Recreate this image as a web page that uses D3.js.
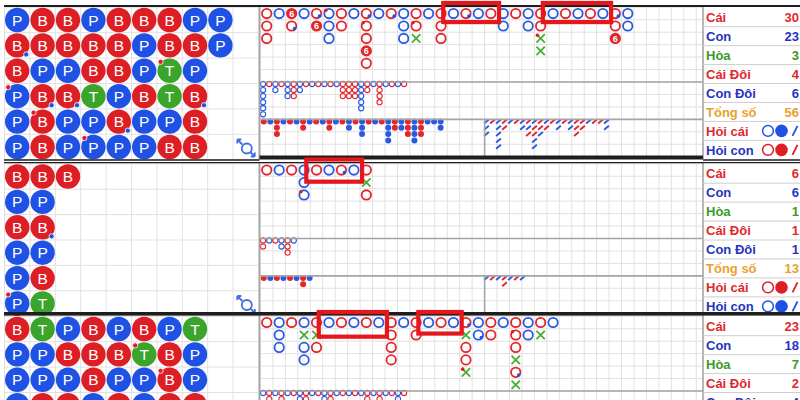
<!DOCTYPE html>
<html>
<head>
<meta charset="utf-8">
<script src="https://cdn.jsdelivr.net/npm/d3@7"></script>
<style>
  body { margin: 0; background: #fff; }
  svg { display: block; font-family: "Liberation Sans", Arial, sans-serif; }
</style>
</head>
<body>
<svg id="chart" width="800" height="400"></svg>
<script>
// Bead plates, row by row. B/P/T + optional pair marks: r = banker pair, b = player pair
const bead1 = [
  ['P', 'B', 'B', 'P', 'B', 'B', 'B', 'P', 'P'],
  ['Bb', 'B', 'B', 'B', 'B', 'P', 'B', 'B', 'P'],
  ['B', 'P', 'P', 'B', 'B', 'P', 'Tr', 'P'],
  ['Pr', 'Bb', 'Bb', 'T', 'P', 'B', 'T', 'Bb'],
  ['P', 'Br', 'P', 'P', 'Bb', 'P', 'P', 'B'],
  ['P', 'B', 'P', 'Pr', 'P', 'P', 'B', 'B']
];
const bead2 = [
  ['B', 'B', 'B'],
  ['P', 'P'],
  ['B', 'Bb'],
  ['P', 'P'],
  ['P', 'B'],
  ['Pr', 'T']
];
const bead3 = [
  ['B', 'T', 'P', 'B', 'P', 'B', 'P', 'T'],
  ['P', 'P', 'B', 'B', 'B', 'Tr', 'B', 'P'],
  ['P', 'P', 'P', 'B', 'P', 'P', 'Br', 'P'],
  ['P', 'B', 'B', 'P', 'B', 'P', 'B', 'B']
];

// Big roads, column by column. 6 = super six, X = tie
const road1 = [
  ['B', 'B', 'B'], ['P'], ['6', 'Bb'], ['P'], ['Bb', '6'], ['Pr', 'P', 'P'], ['B', 'B'], ['P'],
  ['Bb', 'Br', 'B', '6', 'B'], ['P'], ['Bb'], ['P', 'P', 'P'], ['B', 'Br', 'X'], ['P'],
  ['B', 'B', 'B'], ['P'], ['Bb'], ['P'], ['B'], ['P', 'P'], ['B'], ['P', 'P'],
  ['B', 'B', 'Xr', 'X'], ['P'], ['B'], ['P'], ['B'], ['P'], ['Bb', 'B', '6'], ['P', 'P']
];
const road2 = [
  ['B'], ['P'], ['B'], ['P', 'P', 'Pr'], ['B'], ['P'], ['Bb'], ['P'], ['B', 'X', 'B']
];
const road3 = [
  ['B'], ['P', 'P', 'P'], ['B'], ['P', 'X', 'P', 'P'], ['B', 'X', 'B'], ['P'], ['B'], ['P'],
  ['B'], ['P'], ['B', 'B', 'B', 'B'], ['P'], ['B', 'B'], ['P'], ['B'], ['P'],
  ['Bb', 'X', 'B', 'B', 'Xr'], ['P', 'Pb'], ['B', 'B'], ['P'], ['B', 'Br', 'B', 'X', 'Bb', 'X'],
  ['P', 'P'], ['B', 'X'], ['P']
];

// Derived roads, column by column (r = red, b = blue)
const bigEye1 = ['bbbbbb', 'r', 'bb', 'r', 'bbb', 'rrr', 'bb', 'r', 'b', 'r', 'b', 'r', 'b',
  'rrr', 'rrr', 'rrr', 'bbbbb', 'rr', 'b', 'rrrr', 'b', 'r', 'b', 'r'];
const small1 = ['r', 'b', 'rrr', 'b', 'r', 'b', 'rr', 'b', 'r', 'b', 'rr', 'b', 'r', 'bb', 'r',
  'bbb', 'r', 'b', 'r', 'bbbb', 'rr', 'bb', 'rrr', 'bbbb', 'rrr', 'b', 'b', 'bb'];
const roach1 = ['bbb', 'r', 'bbbbb', 'rr', 'b', 'r', 'bb', 'rbr', 'brrbb', 'rrb', 'br', 'r', 'bb',
  'r', 'bb', 'rrr', 'rr', 'b', 'r', 'r', 'bb'];
const bigEye2 = ['rr', 'b', 'r', 'bb', 'rrr', 'b'];
const small2 = ['r', 'b', 'r', 'b', 'r', 'b', 'rr', 'b'];
const roach2 = ['b', 'r', 'b', 'rr', 'b', 'r', 'b'];
const bigEye3 = ['b', 'rr', 'b', 'rr', 'b', 'r', 'bb', 'rr', 'b', 'r', 'bb', 'rr', 'b', 'r', 'b',
  'r', 'b', 'rr', 'b', 'rr', 'b', 'r', 'bb', 'r'];

// Stats panel
const statLabels = ['Cái', 'Con', 'Hòa', 'Cái Đôi', 'Con Đôi', 'Tổng số', 'Hỏi cái', 'Hỏi con'];
const statKinds = ['r', 'b', 'g', 'r', 'b', 'o', 'r', 'b'];
const stats1 = [30, 23, 3, 4, 6, 56];
const stats2 = [6, 6, 1, 1, 1, 13];
const stats3 = [23, 18, 7, 2, 4, 48];
const ask1 = ['b', 'r'];
const ask2 = ['r', 'b'];
const ask3 = ['b', 'r'];

// Highlighted streaks on the big road: section, first col, last col, height in rows
const highlights = [
  [0, 15, 18, 1.05], [0, 23, 27, 1.05], [1, 4, 7, 1.3], [2, 5, 9, 1.5], [2, 13, 15, 1.25]
];

const RED = '#dd1f25';
const BLUE = '#1f52e4';
const GREEN = '#3ba42a';
const RING_RED = '#e2262c';
const RING_BLUE = '#2a5ae2';
const TXT = { r: '#e0282c', b: '#2634c0', g: '#3c9a25', o: '#e9a12c' };
const GRID = '#e1e1e1';
const DIV = '#a5a5a5';

const TOPS = [6, 162.5, 315];
const sections = [
  { bead: bead1, road: road1, eye: bigEye1, small: small1, roach: roach1, stats: stats1, ask: ask1 },
  { bead: bead2, road: road2, eye: bigEye2, small: small2, roach: roach2, stats: stats2, ask: ask2 },
  { bead: bead3, road: road3, eye: bigEye3, small: [], roach: [], stats: stats3, ask: ask3 }
];

const svg = d3.select('#chart');
const beadX = d3.scaleLinear().domain([0, 10]).range([4.5, 258.5]);
const roadX = d3.scaleLinear().domain([0, 1]).range([260.5, 272.95]);
const eyeX = d3.scaleLinear().domain([0, 1]).range([263.1, 269.23]);
const smallX = d3.scaleLinear().domain([0, 1]).range([263.8, 270.35]);
const roachX = d3.scaleLinear().domain([0, 1]).range([486.5, 492.5]);
const colorOf = (c) => (c === 'r' ? RING_RED : RING_BLUE);

const gridLayer = svg.append('g');
const markLayer = svg.append('g');
const frameLayer = svg.append('g');

sections.forEach((sec, si) => {
  const top = TOPS[si];
  const by = d3.scaleLinear().domain([0, 6]).range([top + 1.3, top + 153.7]);
  const ry = d3.scaleLinear().domain([0, 1]).range([top + 1.3, top + 13.75]);
  const eyeY = d3.scaleLinear().domain([0, 1]).range([top + 78, top + 84.06]);
  const lowY = d3.scaleLinear().domain([0, 1]).range([top + 115.5, top + 121.8]);

  // grids
  gridLayer.selectAll(null).data(d3.range(11)).join('line')
    .attr('x1', (d) => beadX(d)).attr('x2', (d) => beadX(d))
    .attr('y1', by(0)).attr('y2', by(6))
    .attr('stroke', GRID);
  gridLayer.selectAll(null).data(d3.range(7)).join('line')
    .attr('x1', beadX(0)).attr('x2', beadX(10))
    .attr('y1', (d) => by(d)).attr('y2', (d) => by(d))
    .attr('stroke', GRID);
  gridLayer.selectAll(null).data(d3.range(36)).join('line')
    .attr('x1', (d) => roadX(d)).attr('x2', (d) => roadX(d))
    .attr('y1', ry(0)).attr('y2', ry(12))
    .attr('stroke', GRID);
  gridLayer.selectAll(null).data(d3.range(13)).join('line')
    .attr('x1', roadX(0)).attr('x2', 703)
    .attr('y1', (d) => ry(d)).attr('y2', (d) => ry(d))
    .attr('stroke', GRID);

  // dividers between the roads
  const divs = [
    [259.5, top, 259.5, by(6)],
    [roadX(0), ry(6), 703, ry(6)],
    [roadX(0), ry(9), 703, ry(9)],
    [roadX(18), ry(9), roadX(18), ry(12)],
    [703, top, 703, top + 153]
  ];
  frameLayer.selectAll(null).data(divs).join('line')
    .attr('x1', (d) => d[0]).attr('y1', (d) => d[1])
    .attr('x2', (d) => d[2]).attr('y2', (d) => d[3])
    .attr('stroke', DIV).attr('stroke-width', 1.6);

  // bead plate
  const beads = [];
  sec.bead.forEach((row, r) => row.forEach((t, c) => beads.push({ r, c, kind: t[0], pair: t.slice(1) })));
  const bg = markLayer.selectAll(null).data(beads).join('g')
    .attr('transform', (d) => `translate(${beadX(d.c + 0.5)},${by(d.r + 0.5)})`);
  bg.append('circle').attr('r', 12.2)
    .attr('fill', (d) => (d.kind === 'B' ? RED : d.kind === 'P' ? BLUE : GREEN));
  bg.append('text').attr('text-anchor', 'middle').attr('dy', '0.36em')
    .attr('fill', '#fff').attr('font-size', 15.5).text((d) => d.kind);
  bg.filter((d) => d.pair).append('circle')
    .attr('cx', (d) => (d.pair === 'r' ? -9 : 9)).attr('cy', (d) => (d.pair === 'r' ? -9 : 9))
    .attr('r', 2.6).attr('fill', (d) => (d.pair === 'r' ? RED : BLUE))
    .attr('stroke', '#fff').attr('stroke-width', 0.8);

  // refresh icon in the last bead cell
  const ic = markLayer.append('g')
    .attr('transform', `translate(${beadX(9.5)},${by(5.5)})`)
    .attr('stroke', '#3d6fe0').attr('fill', 'none').attr('stroke-width', 1.8);
  ic.append('circle').attr('cx', 1).attr('cy', 1.5).attr('r', 5);
  ic.append('path').attr('d', 'M-3.5,-2.5 L-8.5,-7.5 M-8.5,-7.5 L-8.5,-3.5 M-8.5,-7.5 L-4.5,-7.5');
  ic.append('path').attr('d', 'M5,5.5 L9,9.5 M9,9.5 L9,5.5 M9,9.5 L5,9.5');

  // big road
  const cells = [];
  sec.road.forEach((col, c) => col.forEach((t, r) => cells.push({ c, r, kind: t[0], pair: t.slice(1) })));
  const rg = markLayer.selectAll(null).data(cells).join('g')
    .attr('transform', (d) => `translate(${roadX(d.c + 0.5)},${ry(d.r + 0.5)})`);
  rg.filter((d) => d.kind === 'B' || d.kind === 'P').append('circle')
    .attr('r', 4.7).attr('fill', '#fff')
    .attr('stroke', (d) => (d.kind === 'B' ? RING_RED : RING_BLUE)).attr('stroke-width', 1.8);
  const six = rg.filter((d) => d.kind === '6');
  six.append('circle').attr('r', 5.6).attr('fill', RING_RED);
  six.append('text').attr('text-anchor', 'middle').attr('dy', '0.36em')
    .attr('fill', '#fff').attr('font-size', 9).attr('font-weight', 'bold').text('6');
  rg.filter((d) => d.kind === 'X').append('path')
    .attr('d', 'M-4.2,-4.2 L4.2,4.2 M4.2,-4.2 L-4.2,4.2')
    .attr('stroke', '#45b030').attr('stroke-width', 1.8);
  rg.filter((d) => d.pair).append('circle')
    .attr('cx', (d) => (d.pair === 'r' ? -3.2 : 3)).attr('cy', (d) => (d.pair === 'r' ? -3.2 : 2.6))
    .attr('r', 1.8).attr('fill', (d) => (d.pair === 'r' ? RED : BLUE));

  // derived roads
  const flat = (cols) => cols.flatMap((s, c) => s.split('').map((k, r) => ({ c, r, k })));
  markLayer.selectAll(null).data(flat(sec.eye)).join('circle')
    .attr('cx', (d) => eyeX(d.c)).attr('cy', (d) => eyeY(d.r))
    .attr('r', 2.6).attr('fill', 'none')
    .attr('stroke', (d) => colorOf(d.k)).attr('stroke-width', 1.1);
  markLayer.selectAll(null).data(flat(sec.small)).join('circle')
    .attr('cx', (d) => smallX(d.c)).attr('cy', (d) => lowY(d.r))
    .attr('r', 3).attr('fill', (d) => colorOf(d.k));
  markLayer.selectAll(null).data(flat(sec.roach)).join('line')
    .attr('x1', (d) => roachX(d.c) - 2.4).attr('y1', (d) => lowY(d.r) + 2)
    .attr('x2', (d) => roachX(d.c) + 2.4).attr('y2', (d) => lowY(d.r) - 2)
    .attr('stroke', (d) => colorOf(d.k)).attr('stroke-width', 1.9);

  // stats panel
  const sy = (k) => top + 11.2 + k * 18.95;
  frameLayer.selectAll(null).data(d3.range(7)).join('line')
    .attr('x1', 703).attr('x2', 800)
    .attr('y1', (k) => sy(k + 0.5)).attr('y2', (k) => sy(k + 0.5))
    .attr('stroke', '#cfcfcf');
  markLayer.selectAll(null).data(statLabels).join('text')
    .attr('x', 706).attr('y', (d, k) => sy(k)).attr('dy', '0.36em')
    .attr('font-size', 13).attr('font-weight', 'bold')
    .attr('fill', (d, k) => TXT[statKinds[k]]).text((d) => d);
  markLayer.selectAll(null).data(sec.stats).join('text')
    .attr('x', 799).attr('y', (d, k) => sy(k)).attr('dy', '0.36em')
    .attr('text-anchor', 'end').attr('font-size', 13).attr('font-weight', 'bold')
    .attr('fill', (d, k) => TXT[statKinds[k]]).text((d) => d);
  const ask = markLayer.selectAll(null).data(sec.ask).join('g')
    .attr('transform', (d, k) => `translate(0,${sy(6 + k)})`);
  ask.append('circle').attr('cx', 768).attr('r', 5.4).attr('fill', '#fff')
    .attr('stroke', (d) => (d === 'r' ? RED : BLUE)).attr('stroke-width', 1.5);
  ask.append('circle').attr('cx', 781.5).attr('r', 6.3).attr('fill', (d) => (d === 'r' ? RED : BLUE));
  ask.append('line').attr('x1', 792.5).attr('y1', 5).attr('x2', 797.5).attr('y2', -5)
    .attr('stroke', (d) => (d === 'r' ? RED : BLUE)).attr('stroke-width', 1.8);
});

// section borders
frameLayer.append('line').attr('x1', 4).attr('x2', 800).attr('y1', 6).attr('y2', 6)
  .attr('stroke', '#1e1e1e').attr('stroke-width', 2);
frameLayer.append('rect').attr('x', 259.5).attr('y', 155.5).attr('width', 443.5).attr('height', 4)
  .attr('fill', '#1e1e1e');
frameLayer.append('line').attr('x1', 4).attr('x2', 259.5).attr('y1', 160).attr('y2', 160)
  .attr('stroke', '#1e1e1e').attr('stroke-width', 1.4);
frameLayer.append('line').attr('x1', 703).attr('x2', 800).attr('y1', 160).attr('y2', 160)
  .attr('stroke', '#1e1e1e').attr('stroke-width', 1.4);
frameLayer.append('line').attr('x1', 4).attr('x2', 800).attr('y1', 162.6).attr('y2', 162.6)
  .attr('stroke', '#1e1e1e').attr('stroke-width', 1.4);
frameLayer.append('rect').attr('x', 4).attr('y', 312).attr('width', 796).attr('height', 3.6)
  .attr('fill', '#1e1e1e');

// highlight boxes
frameLayer.selectAll(null).data(highlights).join('rect')
  .attr('x', (d) => roadX(d[1]) - 4)
  .attr('y', (d) => TOPS[d[0]] - 3)
  .attr('width', (d) => roadX(d[2] + 1) - roadX(d[1]) + 6)
  .attr('height', (d) => d[3] * 12.45 + 6)
  .attr('fill', 'none').attr('stroke', '#e6161d').attr('stroke-width', 4.2);
</script>
</body>
</html>
